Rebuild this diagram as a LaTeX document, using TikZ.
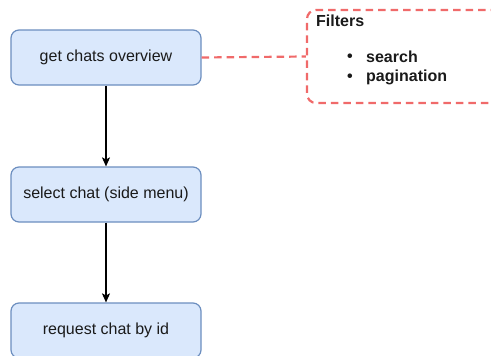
\documentclass[tikz,border=0pt]{standalone}
\usepackage{fontspec}
\setmainfont{Liberation Sans}
\usetikzlibrary{arrows.meta}
\definecolor{boxfill}{HTML}{DAE8FC}
\definecolor{boxdraw}{HTML}{6C8EBF}
\definecolor{filt}{HTML}{F06A6A}
\definecolor{txt}{HTML}{1A1A1A}
\begin{document}
\begin{tikzpicture}[x=1pt,y=-1pt,
  stepbox/.style={draw=boxdraw, fill=boxfill, rounded corners=8pt, minimum width=190pt, minimum height=55pt, line width=1.2pt, inner sep=0pt, text=txt, font=\fontsize{16}{19}\selectfont},
  filtbox/.style={draw=filt, dash pattern=on 7.5pt off 5pt, line width=2.2pt, rounded corners=9pt, minimum width=200pt, minimum height=93pt, inner sep=0pt},
  filtline/.style={color=filt, dash pattern=on 7.5pt off 5pt, line width=2.2pt},
  ftext/.style={font=\fontsize{16}{19}\selectfont\bfseries, text=txt, inner sep=0pt, anchor=west},
  flow/.style={draw=black, line width=1.1pt, -{Stealth[length=9pt,width=8pt,inset=2pt]}}]
\useasboundingbox (0,0) rectangle (491,356);
\clip (0,0) rectangle (491,356);
\node[stepbox] (a) at (106,57.5) {get chats overview};
\node[stepbox] (b) at (106,194.5) {select chat (side menu)};
\node[stepbox] (c) at (106,330.5) {request chat by id};
\node[filtbox] (f) at (407,56.5) {};
\node[ftext] (t) at (316,21) {Filters};
\node[ftext] (b1) at (347,57.5) {\textbullet};
\node[ftext] (s1) at (366,57) {search};
\node[ftext] (b2) at (347,77.5) {\textbullet};
\node[ftext] (s2) at (366,77) {pagination};
\draw[flow] (a) -- (b);
\draw[flow] (b) -- (c);
\path[draw, filtline] (a.east) -- (f.west);
\end{tikzpicture}
\end{document}
